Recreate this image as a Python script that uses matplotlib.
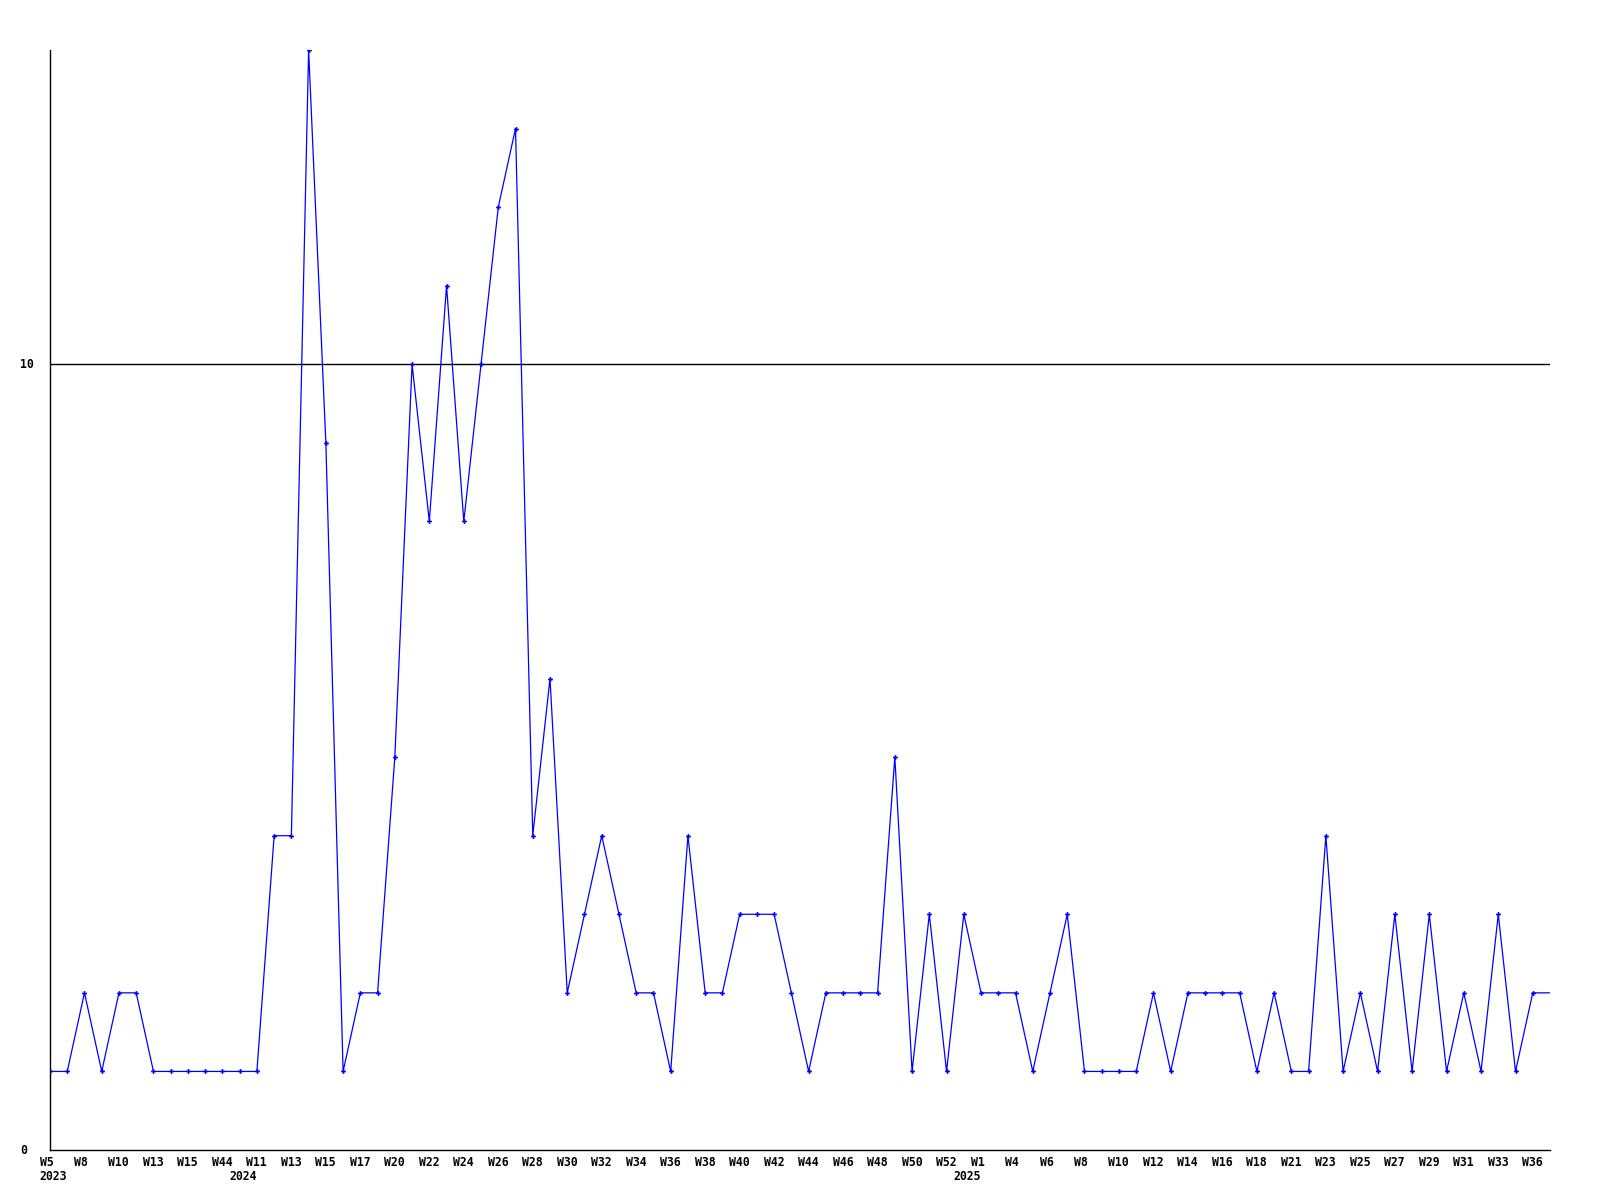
import matplotlib
matplotlib.use('Agg')
import matplotlib.pyplot as plt
from matplotlib.transforms import offset_copy

# weekly counts, one per point
counts = [1, 1, 2, 1, 2, 2, 1, 1, 1, 1, 1, 1, 1, 4, 4, 14, 9, 1, 2, 2,
          5, 10, 8, 11, 8, 10, 12, 13, 4, 6, 2, 3, 4, 3, 2, 2, 1, 4, 2, 2,
          3, 3, 3, 2, 1, 2, 2, 2, 2, 5, 1, 3, 1, 3, 2, 2, 2, 1, 2, 3,
          1, 1, 1, 1, 2, 1, 2, 2, 2, 2, 1, 2, 1, 1, 4, 1, 2, 1, 3, 1,
          3, 1, 2, 1, 3, 1, 2, 2]

# labels shown on every second point
week_labels = ['W5', 'W8', 'W10', 'W13', 'W15', 'W44', 'W11', 'W13', 'W15', 'W17',
               'W20', 'W22', 'W24', 'W26', 'W28', 'W30', 'W32', 'W34', 'W36', 'W38',
               'W40', 'W42', 'W44', 'W46', 'W48', 'W50', 'W52', 'W1', 'W4', 'W6',
               'W8', 'W10', 'W12', 'W14', 'W16', 'W18', 'W21', 'W23', 'W25', 'W27',
               'W29', 'W31', 'W33', 'W36']

# year labels and the point index where each year starts
year_labels = ['2023', '2024', '2025']
year_index = [0, 11, 53]

y_ticks = [0, 10]

fig = plt.figure(figsize=(16, 12), dpi=100)
ax = fig.add_axes([50 / 1600, 50 / 1200, 1500 / 1600, 1100 / 1200])

x = list(range(len(counts)))
ax.plot(x, counts, color='#0000ff', lw=0.9, marker='P', ms=3.5, mew=0,
        markevery=list(range(len(counts) - 1)), mfc='#0000ff')

ax.set_xlim(0, len(counts) - 1)
ax.set_ylim(0, 14)
ax.axhline(10, color='black', lw=1.0, zorder=0)

for s in ['top', 'right']:
    ax.spines[s].set_visible(False)
for s in ['left', 'bottom']:
    ax.spines[s].set_linewidth(1.0)
ax.set_xticks([])
ax.set_yticks([])

font = dict(family='DejaVu Sans Mono', weight='bold', fontsize=8.3)

xtrans = offset_copy(ax.get_xaxis_transform(), fig=fig, x=-10.5, y=0, units='dots')
for i, lab in enumerate(week_labels):
    ax.text(2 * i, -12 / 1100, lab, transform=xtrans, ha='left', va='center', **font)
for idx, lab in zip(year_index, year_labels):
    ax.text(idx, -27 / 1100, lab, transform=xtrans, ha='left', va='center', **font)

for v in y_ticks:
    ax.text(20 / 1600, 50 / 1200 + v / 14 * 1100 / 1200, str(v), transform=fig.transFigure,
            ha='left', va='center', **font)

fig.savefig('out.png', dpi=100)
